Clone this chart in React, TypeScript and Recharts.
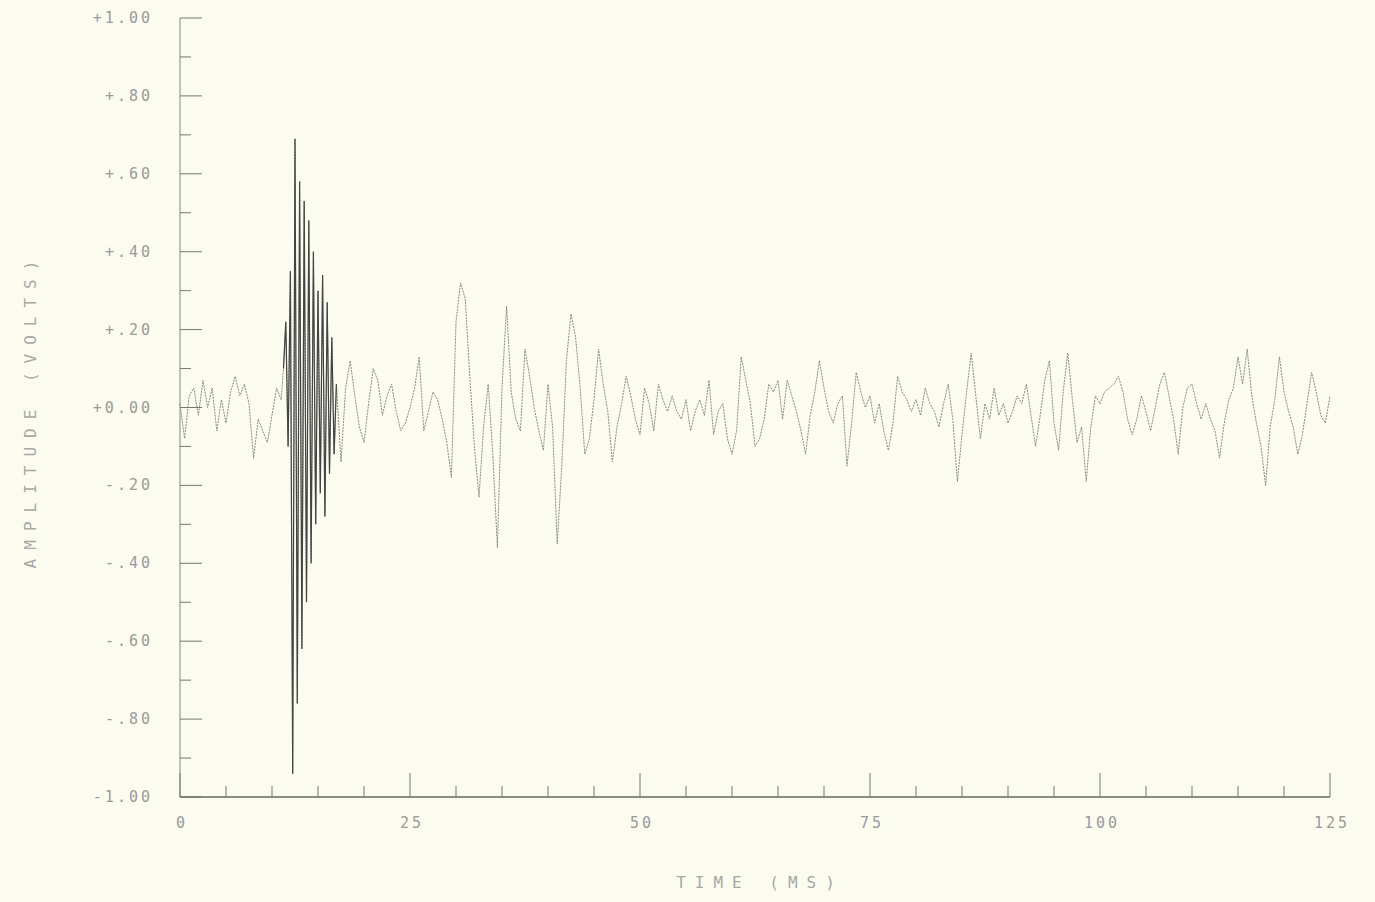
import { LineChart, Line, XAxis, YAxis } from "recharts"

// amplitude (volts), sampled every 0.5 ms from 0 to 11 ms
const quietStart = [
  0.01, -0.08, 0.03, 0.05, -0.02, 0.07, 0.0, 0.05, -0.06, 0.02, -0.04, 0.04,
  0.08, 0.03, 0.06, 0.01, -0.13, -0.03, -0.06, -0.09, -0.02, 0.05, 0.02,
]

// the burst, sampled every 0.25 ms from 11.25 to 17 ms
const burst = [
  0.1, 0.22, -0.1, 0.35, -0.94, 0.69, -0.76, 0.58, -0.62, 0.53, -0.5, 0.48,
  -0.4, 0.4, -0.3, 0.3, -0.22, 0.34, -0.28, 0.27, -0.17, 0.18, -0.12, 0.06,
]

// every 0.5 ms from 17.5 to 50 ms
const coda = [
  -0.14, 0.05, 0.12, 0.03, -0.05, -0.09, 0.01, 0.1, 0.07, -0.02, 0.03, 0.06,
  -0.01, -0.06, -0.04, 0.0, 0.05, 0.13, -0.06, -0.01, 0.04, 0.02, -0.03, -0.09,
  -0.18, 0.22, 0.32, 0.28, 0.08, -0.1, -0.23, -0.05, 0.06, -0.12, -0.36, 0.05,
  0.26, 0.04, -0.03, -0.06, 0.15, 0.08, 0.0, -0.06, -0.11, 0.06, -0.05, -0.35,
  -0.15, 0.12, 0.24, 0.18, 0.05, -0.12, -0.08, 0.02, 0.15, 0.06, -0.01, -0.14,
  -0.05, 0.01, 0.08, 0.03, -0.03, -0.07,
]

// every 0.5 ms from 50.5 to 75 ms
const noiseA = [
  0.05, 0.01, -0.06, 0.06, 0.02, -0.01, 0.03, -0.01, -0.03, 0.02, -0.06, -0.01,
  0.02, -0.02, 0.07, -0.07, -0.01, 0.01, -0.08, -0.12, -0.06, 0.13, 0.07, 0.01,
  -0.1, -0.08, -0.03, 0.06, 0.04, 0.07, -0.03, 0.07, 0.03, -0.01, -0.06, -0.12,
  -0.02, 0.04, 0.12, 0.05, -0.01, -0.04, 0.01, 0.03, -0.15, -0.04, 0.09, 0.04,
  0.0, 0.03,
]

// every 0.5 ms from 75.5 to 100 ms
const noiseB = [
  -0.04, 0.01, -0.06, -0.11, -0.04, 0.08, 0.04, 0.02, -0.01, 0.02, -0.02, 0.05,
  0.01, -0.01, -0.05, 0.01, 0.06, -0.03, -0.19, -0.07, 0.04, 0.14, 0.03, -0.08,
  0.01, -0.03, 0.05, -0.02, 0.01, -0.04, -0.01, 0.03, 0.01, 0.06, -0.02, -0.1,
  -0.02, 0.07, 0.12, -0.04, -0.11, 0.04, 0.14, 0.02, -0.09, -0.05, -0.19, -0.05,
  0.03, 0.01,
]

// every 0.5 ms from 100.5 to 125 ms
const noiseC = [
  0.04, 0.05, 0.06, 0.08, 0.04, -0.03, -0.07, -0.03, 0.03, -0.01, -0.06, 0.0,
  0.06, 0.09, 0.03, -0.03, -0.12, 0.0, 0.05, 0.06, 0.01, -0.03, 0.01, -0.03,
  -0.06, -0.13, -0.04, 0.02, 0.05, 0.13, 0.06, 0.15, 0.03, -0.04, -0.1, -0.2,
  -0.05, 0.02, 0.13, 0.04, -0.01, -0.05, -0.12, -0.07, 0.01, 0.09, 0.04, -0.02,
  -0.04, 0.03,
]

const xTicks = [0, 5, 10, 15, 20, 25, 30, 35, 40, 45, 50, 55, 60, 65, 70, 75, 80, 85, 90, 95, 100, 105, 110, 115, 120, 125]
const xLabels = [0, 25, 50, 75, 100, 125]
const yTicks = [-1, -0.9, -0.8, -0.7, -0.6, -0.5, -0.4, -0.3, -0.2, -0.1, 0, 0.1, 0.2, 0.3, 0.4, 0.5, 0.6, 0.7, 0.8, 0.9, 1]
const yLabels: Record<string, string> = {
  "1": "+1.00", "0.8": "+.80", "0.6": "+.60", "0.4": "+.40", "0.2": "+.20", "0": "+0.00",
  "-0.2": "-.20", "-0.4": "-.40", "-0.6": "-.60", "-0.8": "-.80", "-1": "-1.00",
}

function seg(start: number, step: number, vals: number[], dark = false) {
  return vals.map((v, i) => ({ t: +(start + i * step).toFixed(2), v, b: dark ? v : undefined }))
}

const data = [
  ...seg(0, 0.5, quietStart),
  ...seg(11.25, 0.25, burst, true),
  ...seg(17.5, 0.5, coda),
  ...seg(50.5, 0.5, noiseA),
  ...seg(75.5, 0.5, noiseB),
  ...seg(100.5, 0.5, noiseC),
]

const labelStyle = { fontFamily: "DejaVu Sans Mono", fontSize: 15, letterSpacing: 3, fill: "#9a9a9a" }

function YTick(props: any) {
  const { x, y, payload } = props
  const label = yLabels[String(payload.value)]
  const major = label !== undefined
  return (
    <g>
      <line x1={x} y1={y} x2={x + (major ? 22 : 11)} y2={y} stroke="#777" strokeWidth={1} />
      {major && (
        <text x={x - 27} y={y + 5} textAnchor="end" {...labelStyle}>
          {label}
        </text>
      )}
    </g>
  )
}

function XTick(props: any) {
  const { x, y, payload } = props
  const major = xLabels.includes(payload.value)
  return (
    <g>
      <line x1={x} y1={y} x2={x} y2={y - (major ? 24 : 11)} stroke="#777" strokeWidth={1} />
      {major && (
        <text x={x + 2} y={y + 31} textAnchor="middle" {...labelStyle}>
          {payload.value}
        </text>
      )}
    </g>
  )
}

export default function App() {
  return (
    <div style={{ position: "absolute", top: 0, left: 0, width: 1375, height: 902, background: "#fbfbef" }}>
      <LineChart width={1375} height={902} data={data} margin={{ top: 18, right: 45, bottom: 0, left: 0 }}>
        <XAxis
          dataKey="t"
          type="number"
          domain={[0, 125]}
          ticks={xTicks}
          interval={0}
          tickSize={0}
          tickMargin={0}
          tickLine={false}
          tick={<XTick />}
          height={105}
          axisLine={{ stroke: "#666", strokeWidth: 1.5 }}
        />
        <YAxis
          type="number"
          domain={[-1, 1]}
          ticks={yTicks}
          interval={0}
          tickSize={0}
          tickMargin={0}
          tickLine={false}
          tick={<YTick />}
          width={180}
          allowDataOverflow
          axisLine={{ stroke: "#888", strokeWidth: 1 }}
        />
        <Line
          type="linear"
          dataKey="v"
          stroke="#8a8a8a"
          strokeWidth={1}
          strokeDasharray="2 1"
          dot={false}
          isAnimationActive={false}
        />
        <Line
          type="linear"
          dataKey="b"
          stroke="#444"
          strokeWidth={1.2}
          dot={false}
          isAnimationActive={false}
        />
        <text x={760} y={888} textAnchor="middle" fontFamily="DejaVu Sans Mono" fontSize={16} letterSpacing={9} fill="#a8a8a8">
          TIME (MS)
        </text>
        <text
          x={36}
          y={410}
          textAnchor="middle"
          transform="rotate(-90 36 410)"
          fontFamily="DejaVu Sans Mono"
          fontSize={16}
          letterSpacing={9}
          fill="#a8a8a8"
        >
          AMPLITUDE (VOLTS)
        </text>
      </LineChart>
    </div>
  )
}
